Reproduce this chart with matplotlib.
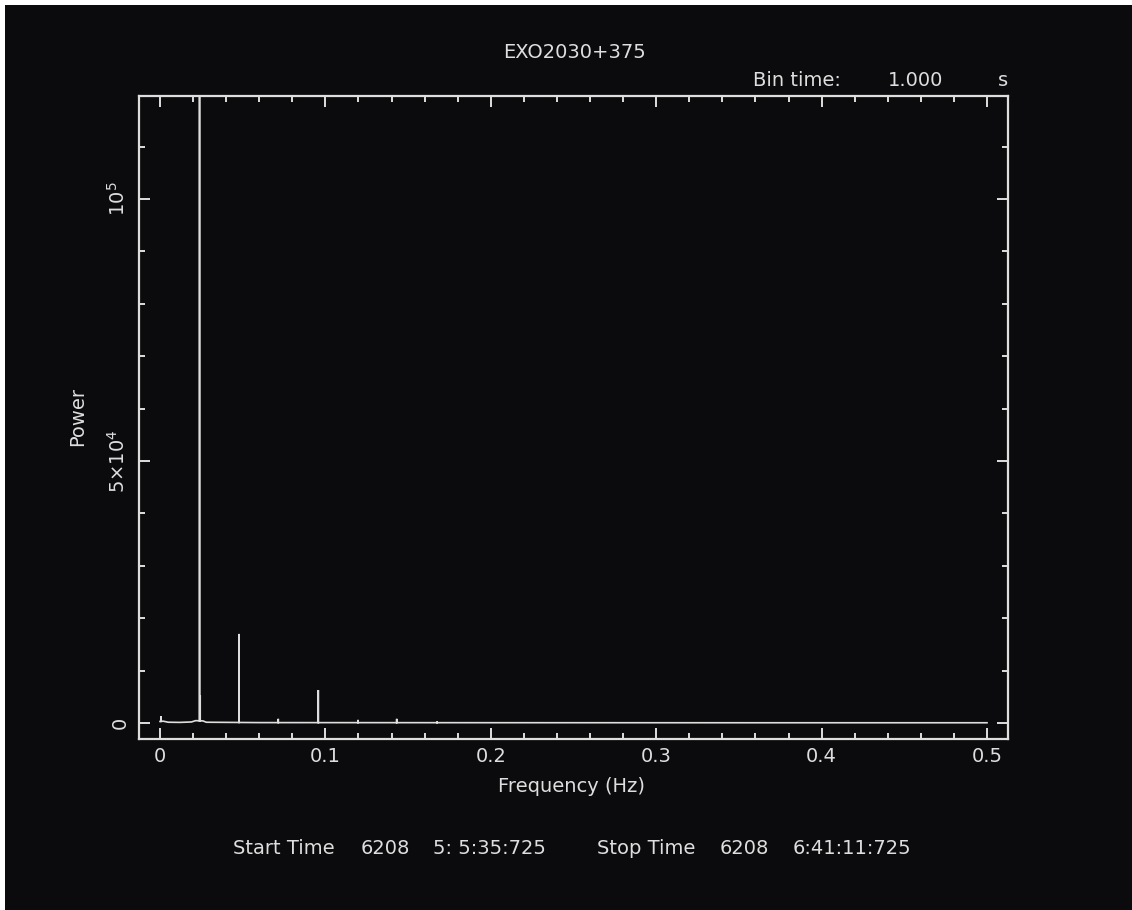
import matplotlib
matplotlib.use("Agg")
import matplotlib.pyplot as plt
from matplotlib.patches import Rectangle
from matplotlib.ticker import MultipleLocator, FixedLocator

# Power density spectrum of EXO2030+375 (1 s bins)
# Broad continuum level sampled along the frequency axis
continuum_freq = [0.0, 0.002, 0.005, 0.012, 0.019, 0.0215, 0.026, 0.028, 0.06, 0.2, 0.35, 0.5]
continuum_power = [300, 350, 150, 120, 200, 450, 400, 150, 80, 60, 50, 50]

# Narrow peaks (pulse frequency ~0.0239 Hz and its harmonics)
peak_freq = [0.0006, 0.0239, 0.0243, 0.0478, 0.0715, 0.0957, 0.1197, 0.1431, 0.1675]
peak_power = [1300, 150000, 5300, 17000, 800, 6300, 600, 800, 300]

xtick_values = [0.0, 0.1, 0.2, 0.3, 0.4, 0.5]
xtick_labels = ["0", "0.1", "0.2", "0.3", "0.4", "0.5"]
ytick_values = [0, 50000, 100000]
ytick_labels = ["0", r"$\mathregular{5{\times}10^4}$", r"$\mathregular{10^5}$"]

title_text = "EXO2030+375"
bin_parts = [("Bin time:", 753), ("1.000", 888), ("s", 998)]
time_parts = [("Start Time", 233), ("6208", 361), ("5: 5:35:725", 433),
              ("Stop Time", 597), ("6208", 720), ("6:41:11:725", 793)]

BG = "#0b0b0d"
FG = "#dedede"
W, H = 1132, 910
FS = 14

# assemble the spectrum: continuum with vertical spikes inserted
freq = list(continuum_freq)
power = list(continuum_power)
for f, p in zip(peak_freq, peak_power):
    base = 0.0
    for i in range(len(continuum_freq) - 1):
        f0, f1 = continuum_freq[i], continuum_freq[i + 1]
        if f0 <= f <= f1:
            p0, p1 = continuum_power[i], continuum_power[i + 1]
            base = p0 + (p1 - p0) * (f - f0) / (f1 - f0)
            break
    freq += [f, f, f]
    power += [base, p, base]
pairs = sorted(enumerate(zip(freq, power)), key=lambda t: (t[1][0], t[0]))
freq_s = [p[1][0] for p in pairs]
power_s = [p[1][1] for p in pairs]

plt.rcParams["font.family"] = ["DejaVu Sans"]
plt.rcParams["mathtext.fontset"] = "dejavusans"

fig = plt.figure(figsize=(W / 100, H / 100), dpi=100, facecolor="white")
fig.patches.append(Rectangle((5 / W, -0.02), 1.05, 1.02 - 5 / H,
                             transform=fig.transFigure, facecolor=BG,
                             edgecolor="none", zorder=-10, clip_on=False))

left, right, top, bottom = 139, 1008, 96, 739
ax = fig.add_axes([left / W, 1 - bottom / H, (right - left) / W, (bottom - top) / H])
ax.set_facecolor(BG)

ax.plot(freq_s, power_s, color=FG, lw=1.2, solid_joinstyle="miter")

ax.set_xlim(-0.0127, 0.5127)
ax.set_ylim(-3050, 119650)

for s in ax.spines.values():
    s.set_color(FG)
    s.set_linewidth(1.6)

ax.xaxis.set_major_locator(FixedLocator(xtick_values))
ax.xaxis.set_minor_locator(MultipleLocator(0.02))
ax.yaxis.set_major_locator(FixedLocator(ytick_values))
ax.yaxis.set_minor_locator(MultipleLocator(10000))
ax.set_xticklabels(xtick_labels)
ax.set_yticklabels(ytick_labels, rotation=90, va="center")

ax.tick_params(which="both", direction="in", top=True, right=True,
               color=FG, labelcolor=FG, width=1.4)
ax.tick_params(which="major", length=8, labelsize=FS)
ax.tick_params(which="minor", length=4)
ax.tick_params(axis="x", which="major", pad=6)
ax.tick_params(axis="y", which="major", pad=7)

fig.text(572 / W, 1 - 786 / H, "Frequency (Hz)", color=FG, fontsize=FS,
         ha="center", va="center")
fig.text(78 / W, 1 - 417 / H, "Power", color=FG, fontsize=FS,
         ha="center", va="center", rotation=90)
fig.text(575 / W, 1 - 52 / H, title_text, color=FG, fontsize=FS,
         ha="center", va="center")
for txt, x in bin_parts:
    fig.text(x / W, 1 - 81 / H, txt, color=FG, fontsize=FS, ha="left", va="center")
for txt, x in time_parts:
    fig.text(x / W, 1 - 849 / H, txt, color=FG, fontsize=FS, ha="left", va="center")

fig.savefig("out.png", dpi=100, facecolor="white")
